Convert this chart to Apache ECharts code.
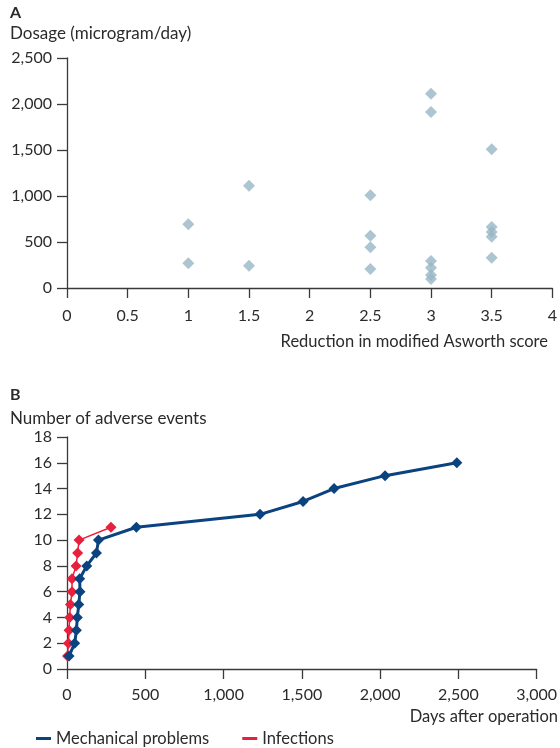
<!DOCTYPE html>
<html><head><meta charset="utf-8">
<script src="https://cdn.jsdelivr.net/npm/echarts@6/dist/echarts.min.js"></script>
<style>html,body{margin:0;padding:0;background:#fff}#c{width:560px;height:748px}</style>
</head><body><div id="c"></div>
<script>
// Panel A: scatter
const scoreReduction = [1,1,1.5,1.5,2.5,2.5,2.5,2.5,3,3,3,3,3,3,3.5,3.5,3.5,3.5,3.5];
const dosage = [692,268,1112,243,1007,569,442,207,2112,1913,293,221,141,98,1507,663,609,558,329];
const xTicksA = [0,0.5,1,1.5,2,2.5,3,3.5,4];
const yTicksA = [0,500,1000,1500,2000,2500];
// Panel B: cumulative adverse events
const mechDays = [13,49,60,66,75,83,81,126,188,201,443,1233,1508,1706,2032,2490];
const mechCount = [1,2,3,4,5,6,7,8,9,10,11,12,13,14,15,16];
const infDays = [3,9,13,17,22,32,32,58,68,77,281];
const infCount = [1,2,3,4,5,6,7,8,9,10,11];
const seriesNames = ['Mechanical problems','Infections'];

const FONT = 'Lato';
const TXT = '#2b2b2b';
const AX = '#3a3a3a';
const fmt = v => v.toLocaleString('en-US');
const axisCommon = {
  axisLine:{show:true,lineStyle:{color:AX,width:1.3}},
  axisTick:{show:true,inside:false,length:10,lineStyle:{color:AX,width:1.3}},
  splitLine:{show:false},
  axisLabel:{color:TXT,fontFamily:FONT,fontSize:16}
};
const ttl = (text, pos, size, bold) => Object.assign({text, padding:0,
  textStyle:{fontFamily:FONT,fontSize:size,fontWeight:bold?'bold':'normal',color:TXT}}, pos);
const chart = echarts.init(document.getElementById('c'),null,{renderer:'canvas'});
chart.setOption({
  animation:false,
  textStyle:{fontFamily:FONT},
  title:[
    ttl('A',{left:10,top:5},16,true),
    ttl('Dosage (microgram/day)',{left:10,top:25},17,false),
    ttl('Reduction in modified Asworth score',{right:12,top:333},16.5,false),
    ttl('B',{left:10,top:387},16,true),
    ttl('Number of adverse events',{left:10,top:410},17,false),
    ttl('Days after operation',{right:2,top:708},16.5,false)
  ],
  grid:[
    {left:67,width:488,top:58,height:230},
    {left:67,width:471,top:437,height:232}
  ],
  xAxis:[
    Object.assign({},axisCommon,{gridIndex:0,type:'value',min:xTicksA[0],max:xTicksA[xTicksA.length-1],interval:0.5,
      axisLabel:Object.assign({},axisCommon.axisLabel,{margin:20})}),
    Object.assign({},axisCommon,{gridIndex:1,type:'value',min:0,max:3000,interval:500,
      axisLabel:Object.assign({},axisCommon.axisLabel,{margin:18,formatter:fmt})})
  ],
  yAxis:[
    Object.assign({},axisCommon,{gridIndex:0,type:'value',min:yTicksA[0],max:yTicksA[yTicksA.length-1],interval:500,
      axisLabel:Object.assign({},axisCommon.axisLabel,{margin:15,formatter:fmt})}),
    Object.assign({},axisCommon,{gridIndex:1,type:'value',min:0,max:18,interval:2,
      axisLabel:Object.assign({},axisCommon.axisLabel,{margin:15})})
  ],
  legend:{
    left:36,top:730,itemGap:33,itemWidth:15,itemHeight:3,icon:'rect',padding:0,
    textStyle:{fontFamily:FONT,fontSize:16.5,color:TXT},
    data:[{name:seriesNames[0]},{name:seriesNames[1]}]
  },
  series:[
    {type:'scatter',xAxisIndex:0,yAxisIndex:0,symbol:'diamond',symbolSize:12,
      itemStyle:{color:'#97b6c4'},
      data:scoreReduction.map((x,i)=>[x,dosage[i]])},
    {name:seriesNames[1],type:'line',xAxisIndex:1,yAxisIndex:1,symbol:'diamond',symbolSize:11,
      color:'#e8203e',lineStyle:{width:1.5,color:'#e8203e'},itemStyle:{color:'#e8203e'},z:2,
      data:infDays.map((d,i)=>[d,infCount[i]])},
    {name:seriesNames[0],type:'line',xAxisIndex:1,yAxisIndex:1,symbol:'diamond',symbolSize:11,
      color:'#0a437f',lineStyle:{width:3,color:'#0a437f'},itemStyle:{color:'#0a437f'},z:3,
      data:mechDays.map((d,i)=>[d,mechCount[i]])}
  ]
});
</script></body></html>
